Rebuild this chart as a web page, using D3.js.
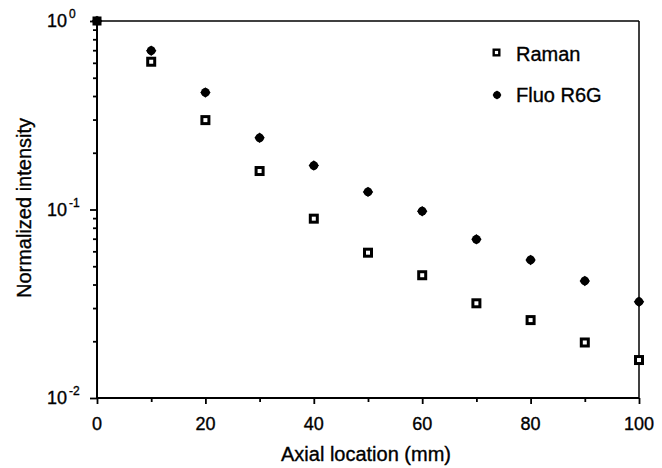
<!DOCTYPE html>
<html><head><meta charset="utf-8">
<script src="https://cdn.jsdelivr.net/npm/d3@7"></script>
<style>
body{margin:0;background:#fff;}
text{font-family:"Liberation Sans",Arial,Helvetica,sans-serif;fill:#000;stroke:#000;stroke-width:0.35px;}
</style></head>
<body>
<svg id="c" width="662" height="468"></svg>
<script>
const positions = [0,10,20,30,40,50,60,70,80,90,100];
const raman = [1.0,0.608,0.298,0.160,0.0894,0.059,0.0448,0.0318,0.0259,0.0197,0.0159];
const fluo  = [1.0,0.696,0.418,0.240,0.171,0.124,0.098,0.0695,0.054,0.0418,0.0324];
const xTicks = [0,20,40,60,80,100];
const xMinor = [10,30,50,70,90];
const yTicks = [1,0.1,0.01];
const yExp = ["0","-1","-2"];
const seriesNames = ["Raman","Fluo R6G"];

const svg = d3.select("#c");
const L=97,R=639,T=21,B=398;
const x = d3.scaleLinear().domain([0,100]).range([L,R]);
const y = d3.scaleLog().domain([0.01,1]).range([B,T]);

const yMinor=[];
[0.01,0.1].forEach(d=>{for(let k=2;k<=9;k++) yMinor.push(d*k);});

const gx = svg.append("g").attr("transform",`translate(0,${B})`);
gx.call(d3.axisBottom(x).tickValues(xTicks).tickSize(6).tickFormat(""));
gx.append("g").call(d3.axisBottom(x).tickValues(xMinor).tickSize(4).tickFormat(""));
gx.selectAll(".domain").remove();
gx.selectAll("line").attr("stroke","#000").attr("stroke-width",1.8);

xTicks.forEach(v=>{
  svg.append("text").attr("x",x(v)).attr("y",430).attr("text-anchor","middle")
    .attr("font-size",18).text(v);
});

const gy = svg.append("g").attr("transform",`translate(${L+1},0)`);
gy.call(d3.axisLeft(y).tickValues(yTicks).tickSize(8).tickFormat(""));
gy.append("g").call(d3.axisLeft(y).tickValues(yMinor).tickSize(5).tickFormat(""));
gy.selectAll(".domain").remove();
gy.selectAll("line").attr("stroke","#000").attr("stroke-width",1.8);

yTicks.forEach((v,i)=>{
  svg.append("text").attr("x",67).attr("y",y(v)+6).attr("text-anchor","end")
    .attr("font-size",18).text("10");
  svg.append("text").attr("x",69).attr("y",y(v)-3).attr("font-size",12).text(yExp[i]);
});

svg.append("line").attr("x1",L).attr("x2",R).attr("y1",T).attr("y2",T).attr("stroke","#000").attr("stroke-width",1.5);
svg.append("line").attr("x1",R).attr("x2",R).attr("y1",T).attr("y2",B).attr("stroke","#000").attr("stroke-width",1.5);
svg.append("line").attr("x1",L).attr("x2",L).attr("y1",T).attr("y2",B).attr("stroke","#000").attr("stroke-width",2);
svg.append("line").attr("x1",L).attr("x2",R).attr("y1",B).attr("y2",B).attr("stroke","#000").attr("stroke-width",2);

function fluoMark(g,cx,cy,s){
  g.append("circle").attr("cx",cx).attr("cy",cy).attr("r",4.4*s).attr("fill","#000");
  g.append("rect").attr("x",-3.7*s).attr("y",-3.7*s).attr("width",7.4*s).attr("height",7.4*s)
    .attr("transform",`translate(${cx},${cy}) rotate(45)`).attr("fill","#000");
}
function ramanMark(g,cx,cy,s){
  g.append("rect").attr("x",cx-5*s).attr("y",cy-5*s).attr("width",10*s).attr("height",10*s).attr("fill","#000");
  g.append("rect").attr("x",cx-2*s).attr("y",cy-2*s).attr("width",4*s).attr("height",4*s).attr("fill","#fff");
}
const gm = svg.append("g");
positions.forEach((p,i)=>fluoMark(gm,x(p),y(fluo[i]),1));
positions.forEach((p,i)=>{
  if(i===0){
    gm.append("rect").attr("x",x(p)-4.5).attr("y",y(raman[i])-4.5).attr("width",9).attr("height",9).attr("fill","#000");
  } else ramanMark(gm,x(p),y(raman[i]),1);
});

ramanMark(svg,496.5,52.5,0.8);
svg.append("text").attr("x",516).attr("y",61).attr("font-size",20).text(seriesNames[0]);
fluoMark(svg,497,95,0.85);
svg.append("text").attr("x",516).attr("y",102).attr("font-size",20).text(seriesNames[1]);

svg.append("text").attr("x",366).attr("y",461).attr("text-anchor","middle").attr("font-size",20).text("Axial location (mm)");
svg.append("text").attr("transform","translate(31,208) rotate(-90)").attr("text-anchor","middle").attr("font-size",20).text("Normalized intensity");
</script>
</body></html>
